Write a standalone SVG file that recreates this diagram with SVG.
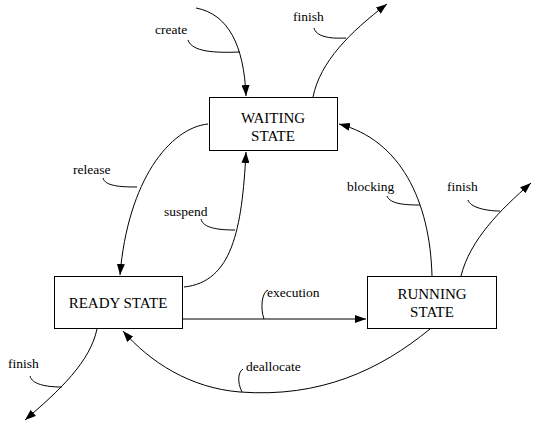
<svg xmlns="http://www.w3.org/2000/svg" width="536" height="423" viewBox="0 0 536 423">
<style>
.box{fill:#fff;stroke:#000;stroke-width:1}
.t{font-size:15px;fill:#000;text-anchor:middle}
.l{font-size:13.5px;fill:#000}
.c{fill:none;stroke:#000;stroke-width:1}
</style>
<defs>
<marker id="ah" markerUnits="userSpaceOnUse" markerWidth="12" markerHeight="8" refX="11" refY="4" orient="auto">
<path d="M0,0 L11,4 L0,8 z" fill="#000"/>
</marker>
</defs>
<rect width="536" height="423" fill="#fff"/>
<g id="connectors">
<path class="c" d="M196,8 C228,14 244,45 246,96" marker-end="url(#ah)"/>
<path class="c" d="M188,40 C192,52 215,53 240,52"/>
<path class="c" d="M313,97 C320,62 350,32 387,4" marker-end="url(#ah)"/>
<path class="c" d="M314,28 C316,36 328,39 346,38"/>
<path class="c" d="M208,124 C170,128 128,180 120,275" marker-end="url(#ah)"/>
<path class="c" d="M103,178 C105,186 120,187 137,187"/>
<path class="c" d="M184,287 C232,282 242,230 246,152" marker-end="url(#ah)"/>
<path class="c" d="M201,219 C203,228 218,230 235,230"/>
<path class="c" d="M183,319 L366,319" marker-end="url(#ah)"/>
<path class="c" d="M264,319 C260,308 262,292 268,290"/>
<path class="c" d="M432,276 C430,200 400,140 339,124" marker-end="url(#ah)"/>
<path class="c" d="M387,196 C390,204 405,205 420,205"/>
<path class="c" d="M461,276 C470,240 500,210 531,183" marker-end="url(#ah)"/>
<path class="c" d="M468,200 C470,207 485,211 500,211"/>
<path class="c" d="M430,329 C380,370 320,398 240,392 C190,388 150,362 123,331" marker-end="url(#ah)"/>
<path class="c" d="M242,392 C237,382 238,372 243,369"/>
<path class="c" d="M97,329 C90,362 60,390 25,420" marker-end="url(#ah)"/>
<path class="c" d="M30,376 C32,384 45,387 62,387"/>
</g>
<g font-family="Liberation Serif, Times New Roman, serif">
<g id="waiting">
<rect class="box" x="209.5" y="97.5" width="128" height="53"/>
<text class="t" x="273" y="123">WAITING</text>
<text class="t" x="273" y="141">STATE</text>
</g>
<g id="ready">
<rect class="box" x="54.5" y="276.5" width="128" height="52"/>
<text class="t" x="118" y="308">READY STATE</text>
</g>
<g id="running">
<rect class="box" x="367.5" y="276.5" width="129" height="52"/>
<text class="t" x="432" y="299">RUNNING</text>
<text class="t" x="432" y="317">STATE</text>
</g>
<g id="labels">
<text class="l" x="155" y="34">create</text>
<text class="l" x="293" y="21">finish</text>
<text class="l" x="73" y="174">release</text>
<text class="l" x="164" y="216">suspend</text>
<text class="l" x="267" y="297">execution</text>
<text class="l" x="347" y="191">blocking</text>
<text class="l" x="447" y="191">finish</text>
<text class="l" x="246" y="371">deallocate</text>
<text class="l" x="8" y="368">finish</text>
</g>
</g>
</svg>
